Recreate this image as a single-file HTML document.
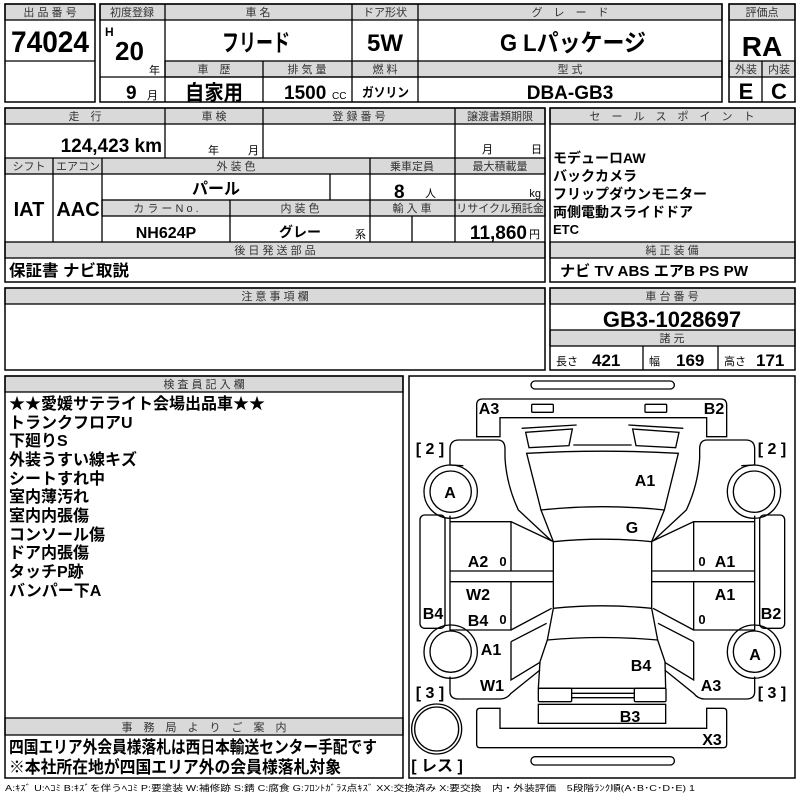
<!DOCTYPE html>
<html><head><meta charset="utf-8"><style>
html,body{margin:0;padding:0;background:#fff;width:800px;height:800px;overflow:hidden}
svg{display:block}
text{font-family:"Liberation Sans","Noto Sans CJK JP",sans-serif;fill:#000}
.h{font-size:11px;fill:#333;text-anchor:middle}
.b{font-weight:bold}
.m{text-anchor:middle}
.e{text-anchor:end}
.g{fill:#d9d9d9;stroke:#000;stroke-width:1.3}
.o{fill:none;stroke:#000;stroke-width:1.5}
.l{stroke:#000;stroke-width:1.3}
.d{fill:none;stroke:#000;stroke-width:4}
.dl{font-size:16px;font-weight:bold;text-anchor:middle}
</style></head><body>
<svg width="800" height="800" viewBox="0 0 800 800" xmlns="http://www.w3.org/2000/svg">
<rect class="g" x="5" y="4" width="90" height="16"/>
<rect class="o" x="5" y="4" width="90" height="98"/>
<line class="l" x1="5" y1="61" x2="95" y2="61"/>
<text class="h" x="50" y="16">出 品 番 号</text>
<text class="b" x="11" y="52" font-size="30" textLength="78" lengthAdjust="spacingAndGlyphs">74024</text>
<rect class="g" x="100" y="4" width="622" height="16"/>
<rect class="g" x="165" y="61" width="557" height="16"/>
<rect class="o" x="100" y="4" width="622" height="98"/>
<line class="l" x1="165" y1="4" x2="165" y2="102"/>
<line class="l" x1="352" y1="4" x2="352" y2="102"/>
<line class="l" x1="418" y1="4" x2="418" y2="102"/>
<line class="l" x1="263" y1="61" x2="263" y2="102"/>
<line class="l" x1="100" y1="77" x2="722" y2="77"/>
<text class="h" x="132" y="16">初度登録</text>
<text class="h" x="258" y="16">車 名</text>
<text class="h" x="385" y="16">ドア形状</text>
<text class="h" x="570" y="16">グ　レ　ー　ド</text>
<text class="b" x="105" y="36" font-size="12">H</text>
<text class="b" x="115" y="60" font-size="26">20</text>
<text x="149" y="74" font-size="11">年</text>
<text class="b" x="126" y="99" font-size="19">9</text>
<text x="147" y="99" font-size="11">月</text>
<text class="b" x="222" y="51" font-size="24" textLength="68" lengthAdjust="spacingAndGlyphs">フリード</text>
<text class="b m" x="385" y="51" font-size="24">5W</text>
<text class="b" x="500" y="51" font-size="24" textLength="146" lengthAdjust="spacingAndGlyphs">G Lパッケージ</text>
<text class="h" x="214" y="73">車　歴</text>
<text class="h" x="307" y="73">排 気 量</text>
<text class="h" x="385" y="73">燃 料</text>
<text class="h" x="570" y="73">型 式</text>
<text class="b" x="185" y="100" font-size="21" textLength="58" lengthAdjust="spacingAndGlyphs">自家用</text>
<text class="b" x="284" y="99" font-size="19">1500</text>
<text x="332" y="99" font-size="10">CC</text>
<text class="b" x="362" y="97" font-size="13" textLength="47" lengthAdjust="spacingAndGlyphs">ガソリン</text>
<text class="b m" x="570" y="99" font-size="19">DBA-GB3</text>
<rect class="g" x="729" y="4" width="66" height="16"/>
<rect class="g" x="729" y="61" width="66" height="16"/>
<rect class="o" x="729" y="4" width="66" height="98"/>
<line class="l" x1="762" y1="61" x2="762" y2="102"/>
<text class="h" x="762" y="16">評価点</text>
<text class="b m" x="762" y="56" font-size="28">RA</text>
<text class="h" x="746" y="73">外装</text>
<text class="h" x="779" y="73">内装</text>
<text class="b m" x="746" y="99" font-size="22">E</text>
<text class="b m" x="779" y="99" font-size="22">C</text>
<rect class="g" x="5" y="108" width="540" height="16"/>
<rect class="g" x="5" y="158" width="540" height="16"/>
<rect class="g" x="102" y="200" width="443" height="16"/>
<rect class="g" x="5" y="242" width="540" height="16"/>
<rect class="o" x="5" y="108" width="540" height="174"/>
<line class="l" x1="165" y1="108" x2="165" y2="158"/>
<line class="l" x1="263" y1="108" x2="263" y2="158"/>
<line class="l" x1="455" y1="108" x2="455" y2="242"/>
<line class="l" x1="53" y1="158" x2="53" y2="242"/>
<line class="l" x1="102" y1="158" x2="102" y2="242"/>
<line class="l" x1="370" y1="158" x2="370" y2="242"/>
<line class="l" x1="330" y1="174" x2="330" y2="200"/>
<line class="l" x1="230" y1="200" x2="230" y2="242"/>
<line class="l" x1="412" y1="216" x2="412" y2="242"/>
<text class="h" x="85" y="120">走　行</text>
<text class="h" x="214" y="120">車 検</text>
<text class="h" x="359" y="120">登 録 番 号</text>
<text class="h" x="500" y="120">譲渡書類期限</text>
<text class="b e" x="162" y="152" font-size="19">124,423 km</text>
<text x="208" y="154" font-size="11">年</text>
<text x="248" y="154" font-size="11">月</text>
<text x="482" y="153" font-size="11">月</text>
<text x="531" y="153" font-size="11">日</text>
<text class="h" x="29" y="170">シフト</text>
<text class="h" x="78" y="170">エアコン</text>
<text class="h" x="236" y="170">外 装 色</text>
<text class="h" x="412" y="170">乗車定員</text>
<text class="h" x="500" y="170">最大積載量</text>
<text class="b m" x="216" y="194" font-size="16">パール</text>
<text class="b" x="394" y="198" font-size="19">8</text>
<text x="425" y="197" font-size="11">人</text>
<text class="e" x="541" y="197" font-size="11">kg</text>
<text class="h" x="166" y="212">カ ラ ー N o .</text>
<text class="h" x="300" y="212">内 装 色</text>
<text class="h" x="412" y="212">輸 入 車</text>
<text class="h" x="500" y="212">リサイクル預託金</text>
<text class="b m" x="166" y="238" font-size="16">NH624P</text>
<text class="b m" x="300" y="237" font-size="14">グレー</text>
<text x="355" y="238" font-size="11">系</text>
<text class="b e" x="527" y="239" font-size="19">11,860</text>
<text x="529" y="238" font-size="11">円</text>
<text class="b m" x="29" y="216" font-size="20">IAT</text>
<text class="b m" x="78" y="216" font-size="20">AAC</text>
<text class="h" x="275" y="254">後 日 発 送 部 品</text>
<text class="b" x="9" y="276" font-size="16" textLength="120" lengthAdjust="spacingAndGlyphs">保証書 ナビ取説</text>
<rect class="g" x="550" y="108" width="245" height="16"/>
<rect class="g" x="550" y="242" width="245" height="16"/>
<rect class="o" x="550" y="108" width="245" height="174"/>
<text class="h" x="672" y="120">セ　ー　ル　ス　ポ　イ　ン　ト</text>
<text class="b" x="553" y="163" font-size="14">モデューロAW</text>
<text class="b" x="553" y="181" font-size="14">バックカメラ</text>
<text class="b" x="553" y="199" font-size="14">フリップダウンモニター</text>
<text class="b" x="553" y="217" font-size="14">両側電動スライドドア</text>
<text class="b" x="553" y="234" font-size="13">ETC</text>
<text class="h" x="672" y="254">純 正 装 備</text>
<text class="b" x="560" y="276" font-size="15" textLength="188" lengthAdjust="spacingAndGlyphs">ナビ  TV  ABS エアB PS PW</text>
<rect class="g" x="5" y="288" width="540" height="16"/>
<rect class="o" x="5" y="288" width="540" height="82"/>
<text class="h" x="275" y="300">注 意 事 項 欄</text>
<rect class="g" x="550" y="288" width="245" height="16"/>
<rect class="g" x="550" y="330" width="245" height="16"/>
<rect class="o" x="550" y="288" width="245" height="82"/>
<line class="l" x1="643" y1="346" x2="643" y2="370"/>
<line class="l" x1="718" y1="346" x2="718" y2="370"/>
<text class="h" x="672" y="300">車 台 番 号</text>
<text class="b m" x="672" y="327" font-size="22">GB3-1028697</text>
<text class="h" x="672" y="342">諸 元</text>
<text x="556" y="365" font-size="11">長さ</text>
<text class="b" x="592" y="366" font-size="17">421</text>
<text x="649" y="365" font-size="11">幅</text>
<text class="b" x="676" y="366" font-size="17">169</text>
<text x="724" y="365" font-size="11">高さ</text>
<text class="b" x="756" y="366" font-size="17">171</text>
<rect class="g" x="5" y="376" width="398" height="16"/>
<rect class="g" x="5" y="718" width="398" height="17"/>
<rect class="o" x="5" y="376" width="398" height="402"/>
<text class="h" x="204" y="388">検 査 員 記 入 欄</text>
<g font-size="16" font-weight="bold">
<text x="9" y="409">★★愛媛サテライト会場出品車★★</text>
<text x="9" y="428">トランクフロアU</text>
<text x="9" y="446">下廻りS</text>
<text x="9" y="465">外装うすい線キズ</text>
<text x="9" y="484">シートすれ中</text>
<text x="9" y="502">室内薄汚れ</text>
<text x="9" y="521">室内内張傷</text>
<text x="9" y="540">コンソール傷</text>
<text x="9" y="558">ドア内張傷</text>
<text x="9" y="577">タッチP跡</text>
<text x="9" y="596">バンパー下A</text>
</g>
<text class="h" x="204" y="731">事　務　局　よ　り　ご　案　内</text>
<text class="b" x="9" y="753" font-size="17" textLength="368" lengthAdjust="spacingAndGlyphs">四国エリア外会員様落札は西日本輸送センター手配です</text>
<text class="b" x="9" y="773" font-size="17" textLength="332" lengthAdjust="spacingAndGlyphs">※本社所在地が四国エリア外の会員様落札対象</text>
<rect class="o" x="409" y="376" width="386" height="402"/>
<g transform="translate(405,375) scale(0.33333)">
<rect class="d" x="378" y="18" width="430" height="24" rx="12"/>
<path class="d" d="M215,185 L215,90 Q215,72 233,72 L947,72 Q965,72 965,90 L965,185 L905,185 L905,128 L285,128 L285,185 Z"/>
<rect class="d" x="380" y="88" width="65" height="24" rx="3"/>
<rect class="d" x="720" y="88" width="65" height="24" rx="3"/>
<path class="d" d="M350,160 L515,150 M670,150 L835,160 M505,210 L680,210"/>
<polygon class="d" points="362,172 502,162 492,212 372,218"/>
<polygon class="d" points="683,162 822,172 812,218 693,212"/>
<path class="d" d="M365,235 Q592,222 820,235 L778,405 Q592,385 408,405 Z"/>
<path class="d" d="M408,405 L445,500 Q592,485 740,500 L778,405"/>
<path class="d" d="M445,500 L445,700 Q592,685 740,700 L740,500"/>
<path class="d" d="M445,700 L427,795 Q592,780 758,795 L740,700"/>
<path class="d" d="M427,795 L405,860 L400,940 L782,940 L780,860 L758,795"/>
<rect class="d" x="400" y="940" width="100" height="40" rx="4"/>
<rect class="d" x="688" y="940" width="95" height="40" rx="4"/>
<path class="d" d="M500,955 L688,955 M500,968 L688,968"/>
<rect class="d" x="400" y="988" width="382" height="57"/>
<path class="d" d="M215,1010 Q215,1000 225,1000 L285,1000 L285,1060 L905,1060 L905,1000 L955,1000 Q965,1000 965,1010 L965,1108 Q965,1118 955,1118 L225,1118 Q215,1118 215,1108 Z"/>
<rect class="d" x="378" y="1145" width="430" height="25" rx="12"/>
<g id="side">
<path class="d" d="M135,270 L135,222 Q135,195 162,195 L278,195 Q300,195 300,222 L300,250 Q305,330 340,405 L440,498"/>
<path class="d" d="M135,270 L175,272 M135,422 L135,440"/>
<circle class="d" cx="137" cy="350" r="80"/>
<circle class="d" cx="137" cy="350" r="62"/>
<circle class="d" cx="137" cy="830" r="80"/>
<circle class="d" cx="137" cy="830" r="62"/>
<rect class="d" x="45" y="420" width="75" height="340" rx="14"/>
<path class="d" d="M135,440 L318,440 L445,500 M135,440 L135,588 L318,588 L318,440 M318,588 L445,588 M135,588 L135,620 L445,620 M135,620 L135,765 L318,765 L318,620 M318,765 L440,700"/>
<path class="d" d="M318,800 L425,745 M318,800 L318,915 L405,862 M135,905 L135,950 Q135,972 160,972 L285,972 Q305,972 318,955 L405,885"/>
</g>
<use href="#side" transform="translate(1184,0) scale(-1,1)"/>
<circle class="d" cx="95" cy="1062" r="75"/>
<circle class="d" cx="95" cy="1062" r="66"/>
</g>
<g class="dl">
<text class="dl" x="489" y="414">A3</text>
<text class="dl" x="714" y="414">B2</text>
<text class="dl" x="430" y="454">[ 2 ]</text>
<text class="dl" x="772" y="454">[ 2 ]</text>
<text class="dl" x="645" y="486">A1</text>
<text class="dl" x="450" y="498">A</text>
<text class="dl" x="632" y="533">G</text>
<text class="dl" x="478" y="567">A2</text>
<text class="m" x="503" y="566" font-size="13">0</text>
<text class="m" x="702" y="566" font-size="13">0</text>
<text class="dl" x="725" y="567">A1</text>
<text class="dl" x="478" y="600">W2</text>
<text class="dl" x="725" y="600">A1</text>
<text class="dl" x="433" y="619">B4</text>
<text class="dl" x="478" y="626">B4</text>
<text class="m" x="503" y="624" font-size="13">0</text>
<text class="m" x="702" y="624" font-size="13">0</text>
<text class="dl" x="771" y="619">B2</text>
<text class="dl" x="491" y="655">A1</text>
<text class="dl" x="755" y="660">A</text>
<text class="dl" x="641" y="671">B4</text>
<text class="dl" x="492" y="691">W1</text>
<text class="dl" x="711" y="691">A3</text>
<text class="dl" x="430" y="698">[ 3 ]</text>
<text class="dl" x="772" y="698">[ 3 ]</text>
<text class="dl" x="630" y="722">B3</text>
<text class="dl" x="712" y="745">X3</text>
<text class="dl" x="437" y="771" font-size="14">[ レス ]</text>
</g>
<text x="5" y="791" font-size="8.5" fill="#222" textLength="690" lengthAdjust="spacingAndGlyphs">A:ｷｽﾞ U:ﾍｺﾐ B:ｷｽﾞを伴うﾍｺﾐ P:要塗装 W:補修跡 S:錆 C:腐食 G:ﾌﾛﾝﾄｶﾞﾗｽ点ｷｽﾞ XX:交換済み X:要交換　内・外装評価　5段階ﾗﾝｸ順(A･B･C･D･E) 1</text>
</svg>
</body></html>
